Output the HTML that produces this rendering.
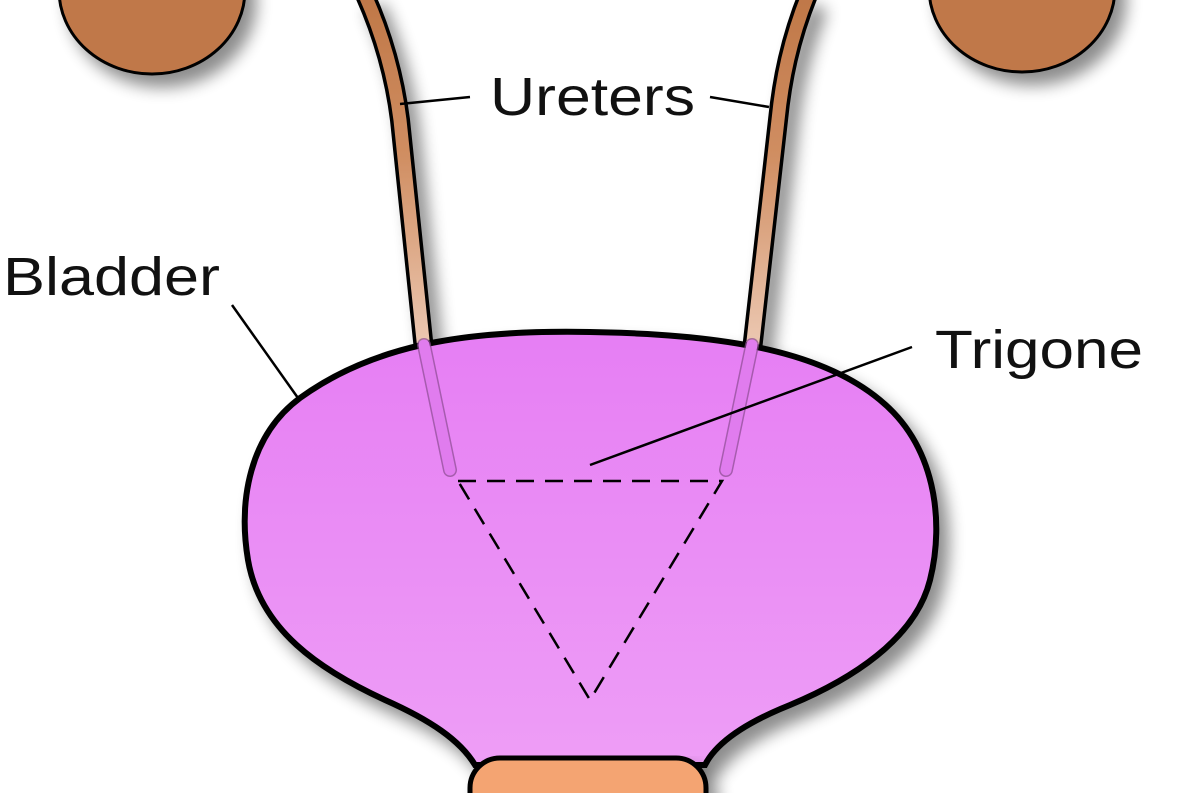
<!DOCTYPE html>
<html><head><style>
html,body{margin:0;padding:0;background:#fff;}
svg{display:block;}
text{font-family:"Liberation Sans",sans-serif;fill:#111;}
</style></head><body>
<svg width="1181" height="793" viewBox="0 0 1181 793" xmlns="http://www.w3.org/2000/svg">
<defs>
<filter id="sh" x="-20%" y="-20%" width="150%" height="150%">
<feGaussianBlur in="SourceAlpha" stdDeviation="8"/>
<feOffset dx="10" dy="12"/>
<feComponentTransfer><feFuncA type="linear" slope="0.45"/></feComponentTransfer>
<feMerge><feMergeNode/><feMergeNode in="SourceGraphic"/></feMerge>
</filter>
<linearGradient id="ug2" x1="0" y1="0" x2="0" y2="345" gradientUnits="userSpaceOnUse">
<stop offset="0" stop-color="#c07848"/>
<stop offset="0.45" stop-color="#d08e62"/>
<stop offset="1" stop-color="#ecc8b2"/>
</linearGradient>
<linearGradient id="bg" x1="0" y1="330" x2="0" y2="770" gradientUnits="userSpaceOnUse">
<stop offset="0" stop-color="#e67ef4"/>
<stop offset="1" stop-color="#ee9ef6"/>
</linearGradient>
</defs>

<g filter="url(#sh)">
<ellipse cx="152" cy="-10" rx="93" ry="84" fill="#c0784a" stroke="#000" stroke-width="3"/>
<ellipse cx="1022" cy="-12" rx="93" ry="84" fill="#c0784a" stroke="#000" stroke-width="3"/>
</g>

<g filter="url(#sh)">
<path d="M365,-5 C385,40 395,80 400,120 L424,350" fill="none" stroke="#000" stroke-width="20"/>
<path d="M365,-5 C385,40 395,80 400,120 L424,350" fill="none" stroke="url(#ug2)" stroke-width="13"/>
<path d="M808,-5 C790,40 782,80 778,120 L752,350" fill="none" stroke="#000" stroke-width="20"/>
<path d="M808,-5 C790,40 782,80 778,120 L752,350" fill="none" stroke="url(#ug2)" stroke-width="13"/>
</g>

<path filter="url(#sh)" d="M300,398 C380,340 480,330 590,332 C720,334 820,350 880,400 C935,445 945,520 930,580 C915,640 850,680 790,705 C740,725 715,745 705,765 L475,765 C460,740 430,720 385,700 C320,670 260,630 248,560 C238,500 250,435 300,398 Z" fill="url(#bg)" stroke="#000" stroke-width="6"/>

<path d="M424,345 L450,470" fill="none" stroke="#8a4a90" stroke-width="14" stroke-linecap="round" opacity="0.7"/>
<path d="M424,345 L450,470" fill="none" stroke="#e07cee" stroke-width="11" stroke-linecap="round"/>
<path d="M752,345 L726,470" fill="none" stroke="#8a4a90" stroke-width="14" stroke-linecap="round" opacity="0.7"/>
<path d="M752,345 L726,470" fill="none" stroke="#e07cee" stroke-width="11" stroke-linecap="round"/>

<path d="M458,481 L722,481 L590,700 Z" fill="none" stroke="#000" stroke-width="2.5" stroke-dasharray="18,11"/>

<rect filter="url(#sh)" x="470" y="758" width="236" height="70" rx="30" fill="#f4a472" stroke="#000" stroke-width="5"/>

<g stroke="#000" stroke-width="2.5" fill="none">
<line x1="400" y1="104" x2="470" y2="97"/>
<line x1="710" y1="97" x2="769" y2="107"/>
<line x1="232" y1="305" x2="298" y2="398"/>
<line x1="912" y1="347" x2="590" y2="465"/>
</g>

<text x="490" y="115" font-size="54" textLength="205" lengthAdjust="spacingAndGlyphs">Ureters</text>
<text x="3" y="295" font-size="54" textLength="217" lengthAdjust="spacingAndGlyphs">Bladder</text>
<text x="935" y="368" font-size="54" textLength="208" lengthAdjust="spacingAndGlyphs">Trigone</text>
</svg>
</body></html>
